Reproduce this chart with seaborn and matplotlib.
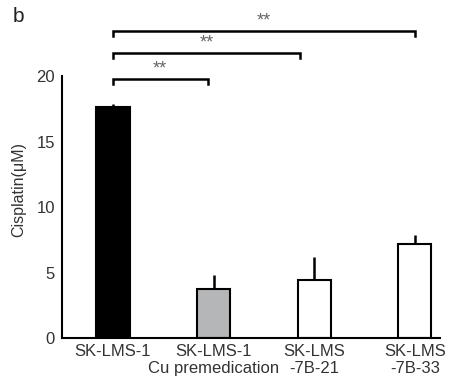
import seaborn as sns
import matplotlib.pyplot as plt
import pandas as pd

# cell lines and cisplatin IC50 (uM), upper error only
groups = ['SK-LMS-1', 'SK-LMS-1\nCu premedication', 'SK-LMS\n-7B-21', 'SK-LMS\n-7B-33']
ic50 = [17.6, 3.75, 4.4, 7.2]
sem = [0.3, 1.05, 1.75, 0.65]
bar_colors = ['black', '#b5b6b8', 'white', 'white']

# significance brackets: (start group, end group, label)
comparisons = [(0, 0.94, '**'), (0, 1.86, '**'), (0, 3.0, '**')]
bracket_y = [19.8, 21.75, 23.45]

df = pd.DataFrame({'group': groups, 'ic50': ic50})

plt.rcParams['font.family'] = ['Liberation Sans', 'DejaVu Sans']
fig = plt.figure(figsize=(4.49, 3.77), dpi=100)
ax = fig.add_axes([0.138, 0.1034, 0.842, 0.6950])

sns.barplot(data=df, x='group', y='ic50', hue='group', palette=bar_colors,
            legend=False, width=0.33, edgecolor='black', linewidth=1.5, ax=ax)
ax.errorbar(range(len(groups)), ic50, yerr=[[0] * len(sem), sem], fmt='none',
            ecolor='black', elinewidth=1.8, capsize=0, zorder=1)

ax.set_ylim(0, 20)
ax.set_xlim(-0.507, 3.25)
ax.set_yticks([0, 5, 10, 15, 20])
ax.tick_params(length=0, labelsize=12, colors='#333333')
ax.tick_params(axis='y', pad=5)
ax.tick_params(axis='x', pad=4)
ax.set_xlabel('')
ax.set_ylabel('Cisplatin(\u03bcM)', fontsize=11.5, color='#333333')
ax.yaxis.set_label_coords(-0.095, 0.565)
for side in ['top', 'right']:
    ax.spines[side].set_visible(False)
for side in ['left', 'bottom']:
    ax.spines[side].set_linewidth(1.5)
    ax.spines[side].set_color('black')

drop = 0.4
for (x0, x1, lab), y in zip(comparisons, bracket_y):
    ax.plot([x0, x0, x1, x1], [y - drop, y, y, y - drop], color='black',
            lw=1.8, clip_on=False, solid_joinstyle='miter')
    ax.text((x0 + x1) / 2, y + 0.75, lab, ha='center', va='center',
            fontsize=13, color='#666666', clip_on=False)

fig.text(0.028, 0.955, 'b', fontsize=15, color='#222222', va='center')

fig.savefig('out.png', dpi=100)
